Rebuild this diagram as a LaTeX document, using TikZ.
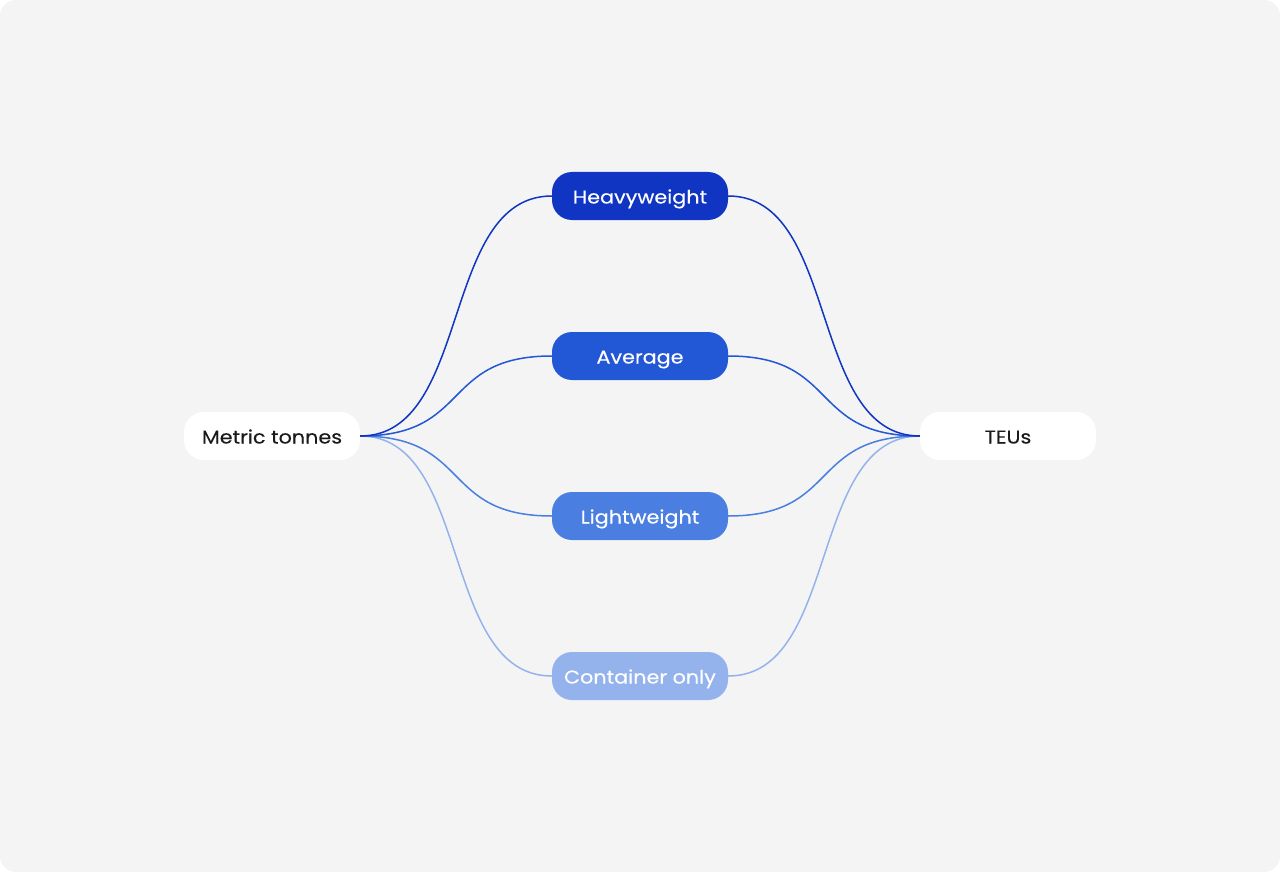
\documentclass[tikz,border=0pt]{standalone}
\usepackage{fontspec}
\setmainfont{Poppins}[FakeStretch=1.12,FakeBold=0.25]
\definecolor{bgc}{HTML}{F4F4F4}
\definecolor{cheavy}{HTML}{0F35C2}
\definecolor{cavg}{HTML}{2257D6}
\definecolor{clight}{HTML}{4A7EE0}
\definecolor{ccont}{HTML}{94B3ED}
\definecolor{txt}{HTML}{1A1A1A}
\begin{document}
\begin{tikzpicture}[x=1pt,y=-1pt,
  pill/.style={rounded corners=20pt, minimum width=176pt, minimum height=48pt, inner sep=0pt,
    text height=17pt, text depth=2pt, font=\fontsize{18.5}{22}\selectfont},
  endbox/.style={pill, fill=white, text=txt},
  midbox/.style={pill, text=white},
  link/.style={line width=1.5pt}
]
\useasboundingbox (0,0) rectangle (1280,872);
\fill[white] (0,0) rectangle (1280,872);
\fill[bgc, rounded corners=16pt] (0,0) rectangle (1280,872);

\node[endbox] (mt) at (272,436) {Metric tonnes};
\node[endbox] (teu) at (1008,436) {TEUs};
\node[midbox, fill=cheavy] (hw) at (640,196) {Heavyweight};
\node[midbox, fill=cavg] (av) at (640,356) {Average};
\node[midbox, fill=clight] (lw) at (640,516) {Lightweight};
\node[midbox, fill=ccont] (co) at (640,676) {Container only};

\foreach \n/\c in {co/ccont, lw/clight, av/cavg, hw/cheavy}{
  \draw[link, \c] (mt.east) .. controls +(112,0) and +(-112,0) .. (\n.west);
  \draw[link, \c] (\n.east) .. controls +(112,0) and +(-112,0) .. (teu.west);
}
\end{tikzpicture}
\end{document}
